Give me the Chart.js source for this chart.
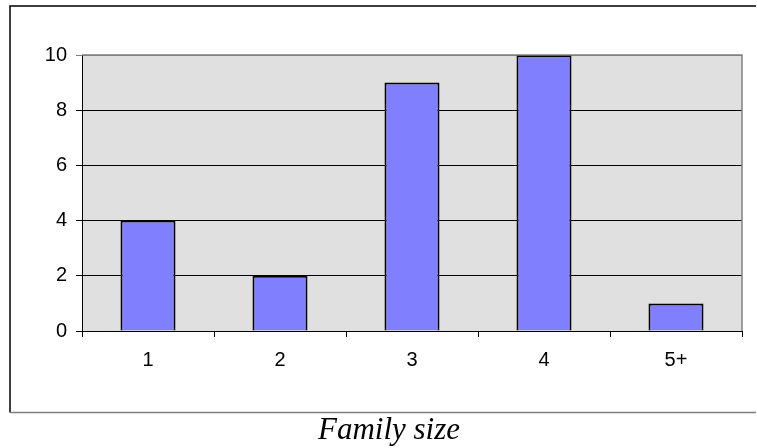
<!DOCTYPE html>
<html>
<head>
<meta charset="utf-8">
<script src="https://cdn.jsdelivr.net/npm/chart.js@4/dist/chart.umd.min.js"></script>
<style>
  html, body { margin: 0; padding: 0; background: #ffffff; }
  #wrap { width: 757px; height: 448px; }
</style>
</head>
<body>
<div id="wrap"><canvas id="chart" width="757" height="448"></canvas></div>
<script>
// Family size distribution
const categories = ['1', '2', '3', '4', '5+'];
const counts = [4, 2, 9, 10, 1];
const yTicks = [0, 2, 4, 6, 8, 10];
const titleText = 'Family size';

// Frame around the chart, grey plot background, plot edges and caption
const framePlugin = {
  id: 'frame',
  beforeDraw(chart) {
    const { ctx, chartArea: a } = chart;
    ctx.save();
    ctx.fillStyle = '#e0e0e0';
    ctx.fillRect(a.left, a.top, a.right - a.left, a.bottom - a.top);
    // outer box
    ctx.lineWidth = 1.5;
    ctx.strokeStyle = '#000000';
    ctx.beginPath();
    ctx.moveTo(10, 412.5);
    ctx.lineTo(10, 6);
    ctx.lineTo(756, 6);
    ctx.stroke();
    ctx.strokeStyle = '#808080';
    ctx.beginPath();
    ctx.moveTo(10, 412.5);
    ctx.lineTo(756, 412.5);
    ctx.stroke();
    ctx.restore();
  },
  afterDatasetsDraw(chart) {
    const { ctx, chartArea: a } = chart;
    ctx.save();
    ctx.strokeStyle = '#808080';
    ctx.lineWidth = 1.5;
    ctx.beginPath();
    ctx.moveTo(a.left, a.top);
    ctx.lineTo(a.right, a.top);
    ctx.lineTo(a.right, a.bottom);
    ctx.stroke();
    // caption below the frame
    ctx.fillStyle = '#000000';
    ctx.font = 'italic 31px "Liberation Serif", "Times New Roman", serif';
    ctx.textAlign = 'center';
    ctx.textBaseline = 'alphabetic';
    ctx.fillText(titleText, 389, 439);
    ctx.restore();
  }
};

const tickFont = { family: '"Liberation Sans", Arial, sans-serif', size: 20, lineHeight: 1.2 };

new Chart(document.getElementById('chart'), {
  type: 'bar',
  data: {
    labels: categories,
    datasets: [{
      data: counts,
      backgroundColor: '#8080ff',
      borderColor: '#000000',
      borderWidth: 2,
      barPercentage: 0.417,
      categoryPercentage: 1.0
    }]
  },
  options: {
    responsive: false,
    animation: false,
    devicePixelRatio: 1,
    layout: { padding: { left: 0, right: 15, top: 55, bottom: 0 } },
    plugins: {
      legend: { display: false },
      tooltip: { enabled: false },
      title: { display: false }
    },
    scales: {
      x: {
        offset: true,
        grid: {
          offset: true,
          drawOnChartArea: false,
          drawTicks: true,
          tickLength: 6,
          color: '#000000'
        },
        border: { display: true, color: '#000000', width: 1 },
        ticks: {
          color: '#000000',
          padding: 11,
          font: tickFont
        },
        afterFit(scale) { scale.height = 117; }
      },
      y: {
        min: 0,
        max: 10,
        afterBuildTicks(scale) { scale.ticks = yTicks.map(v => ({ value: v })); },
        grid: {
          drawTicks: true,
          tickLength: 6,
          color: (c) => (c.tick && c.tick.value === 10 ? '#808080' : '#000000'),
          lineWidth: 1
        },
        border: { display: true, color: '#000000', width: 1 },
        ticks: {
          color: '#000000',
          padding: 9,
          font: tickFont
        },
        afterFit(scale) { scale.width = 82; }
      }
    }
  },
  plugins: [framePlugin]
});
</script>
</body>
</html>
